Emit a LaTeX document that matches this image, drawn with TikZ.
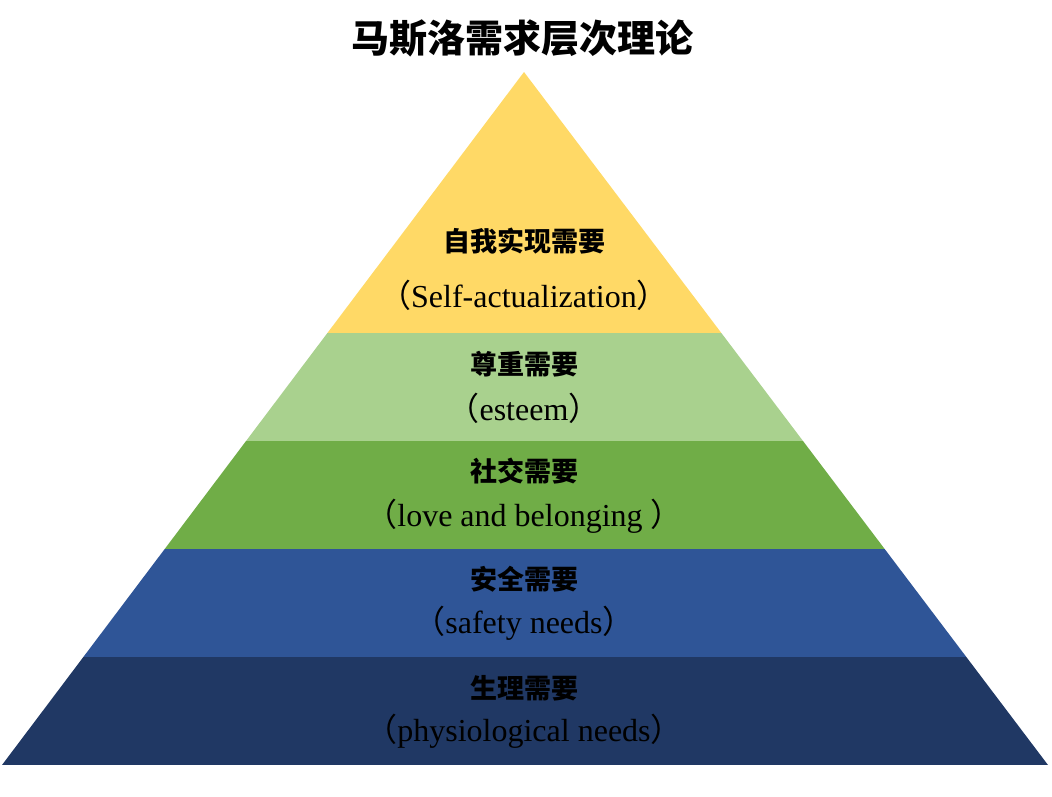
\documentclass[tikz,border=0pt]{standalone}
\usepackage{fontspec}
\setmainfont{Liberation Serif}
\newfontfamily\cjk{Noto Sans CJK SC}
\usepackage{xcolor}
\usetikzlibrary{positioning}
\definecolor{topyel}{HTML}{FFD966}
\definecolor{lightgrn}{HTML}{A9D18E}
\definecolor{midgrn}{HTML}{70AD47}
\definecolor{midblu}{HTML}{2F5597}
\definecolor{darkblu}{HTML}{203864}
\tikzset{
  ttl/.style ={font=\cjk\bfseries\fontsize{38}{40}\selectfont,inner sep=0pt},
  cn/.style  ={font=\cjk\bfseries\fontsize{27}{30}\selectfont,inner sep=0pt},
  en/.style  ={font=\fontsize{32}{34}\selectfont,inner sep=0pt},
}
\newcommand{\lp}{{\cjk （}}
\newcommand{\rp}{{\cjk ）}}

\begin{document}
\begin{tikzpicture}[x=1pt,y=-1pt]
  \useasboundingbox (0,0) rectangle (1052,796);
  % title
  \node[ttl] (title) at (522,38) {马斯洛需求层次理论};
  % pyramid, cut into five layers
  \coordinate (apex) at (524,72);
  \coordinate (baseL) at (2,765);
  \coordinate (baseR) at (1048,765);
  \begin{scope}
    \clip (apex) -- (baseR) -- (baseL) -- cycle;
    \foreach \ytop/\ybot/\col in {60/333/topyel, 333/441/lightgrn, 441/549/midgrn,
                                  549/657/midblu, 657/765/darkblu}
      \fill[\col] (0,\ytop) rectangle (1052,\ybot);
  \end{scope}
  % labels
  \node[cn] (cnSelf)   at (524,241) {自我实现需要};
  \node[en] (enSelf)   at (524,295) {\lp Self-actualization\rp};
  \node[cn] (cnEsteem) at (524,364) {尊重需要};
  \node[en] (enEsteem) at (524,408) {\lp esteem\rp};
  \node[cn] (cnLove)   at (524,471) {社交需要};
  \node[en] (enLove)   at (524,516) {\lp love and belonging \rp};
  \node[cn] (cnSafe)   at (524,579) {安全需要};
  \node[en] (enSafe)   at (524,623) {\lp safety needs\rp};
  \node[cn] (cnBody)   at (524,688) {生理需要};
  \node[en] (enBody)   at (524,731) {\lp physiological needs\rp};
\end{tikzpicture}
\end{document}
